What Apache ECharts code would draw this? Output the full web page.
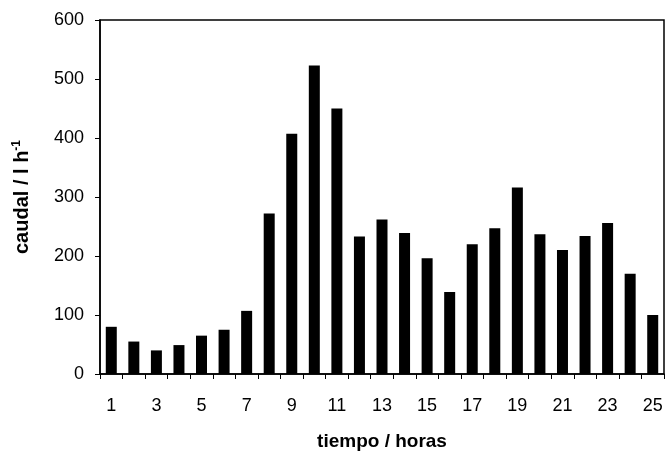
<!DOCTYPE html>
<html>
<head>
  <meta charset="utf-8">
</head>
<body style="margin: 0">
  <div id="container" style="width: 666px; height: 452px"></div>
  <script src="https://cdn.jsdelivr.net/npm/echarts@6/dist/echarts.min.js"></script>
  <script>
    var horas = ['1','2','3','4','5','6','7','8','9','10','11','12','13','14','15','16','17','18','19','20','21','22','23','24','25'];
    var caudal = [80, 55, 40, 49, 65, 75, 107, 272, 407, 523, 450, 233, 262, 239, 196, 139, 220, 247, 316, 237, 210, 234, 256, 170, 100];
    var yTicks = [0, 100, 200, 300, 400, 500, 600];

    var chart = echarts.init(document.getElementById('container'), null, { renderer: 'canvas' });
    var font = 'Liberation Sans, Arial, sans-serif';

    var option = {
      animation: false,
      textStyle: { fontFamily: font },
      grid: {
        left: 100, right: 2, top: 20, bottom: 78,
        outerBoundsMode: 'none',
        show: true, borderColor: '#000', borderWidth: 1.5, backgroundColor: 'transparent'
      },
      xAxis: {
        type: 'category',
        data: horas,
        name: 'tiempo / horas',
        nameLocation: 'middle',
        nameGap: 58,
        nameTextStyle: { fontSize: 19, fontWeight: 'bold', color: '#000', fontFamily: font },
        axisLine: { lineStyle: { color: '#000', width: 1.5 } },
        axisTick: { show: true, length: 5, interval: 0, lineStyle: { color: '#000' } },
        axisLabel: { interval: 1, fontSize: 18, color: '#000', margin: 23, fontFamily: font }
      },
      yAxis: {
        type: 'value',
        min: yTicks[0],
        max: yTicks[yTicks.length - 1],
        interval: 100,
        name: '{n|caudal / l h}{s|-1}',
        nameLocation: 'middle',
        nameGap: 67,
        nameTextStyle: {
          rich: {
            n: { fontSize: 20, fontWeight: 'bold', color: '#000', fontFamily: font },
            s: { fontSize: 12, fontWeight: 'bold', color: '#000', fontFamily: font, verticalAlign: 'top', padding: [0, 0, 10, 0] }
          }
        },
        axisLine: { show: true, lineStyle: { color: '#000', width: 1.5 } },
        axisTick: { show: true, length: 5, lineStyle: { color: '#000' } },
        axisLabel: { fontSize: 18, color: '#000', margin: 16, fontFamily: font },
        splitLine: { show: false }
      },
      series: [{
        type: 'bar',
        data: caudal,
        barWidth: 11,
        itemStyle: { color: '#000' }
      }]
    };

    chart.setOption(option);
    window.addEventListener('resize', chart.resize);
  </script>
</body>
</html>
